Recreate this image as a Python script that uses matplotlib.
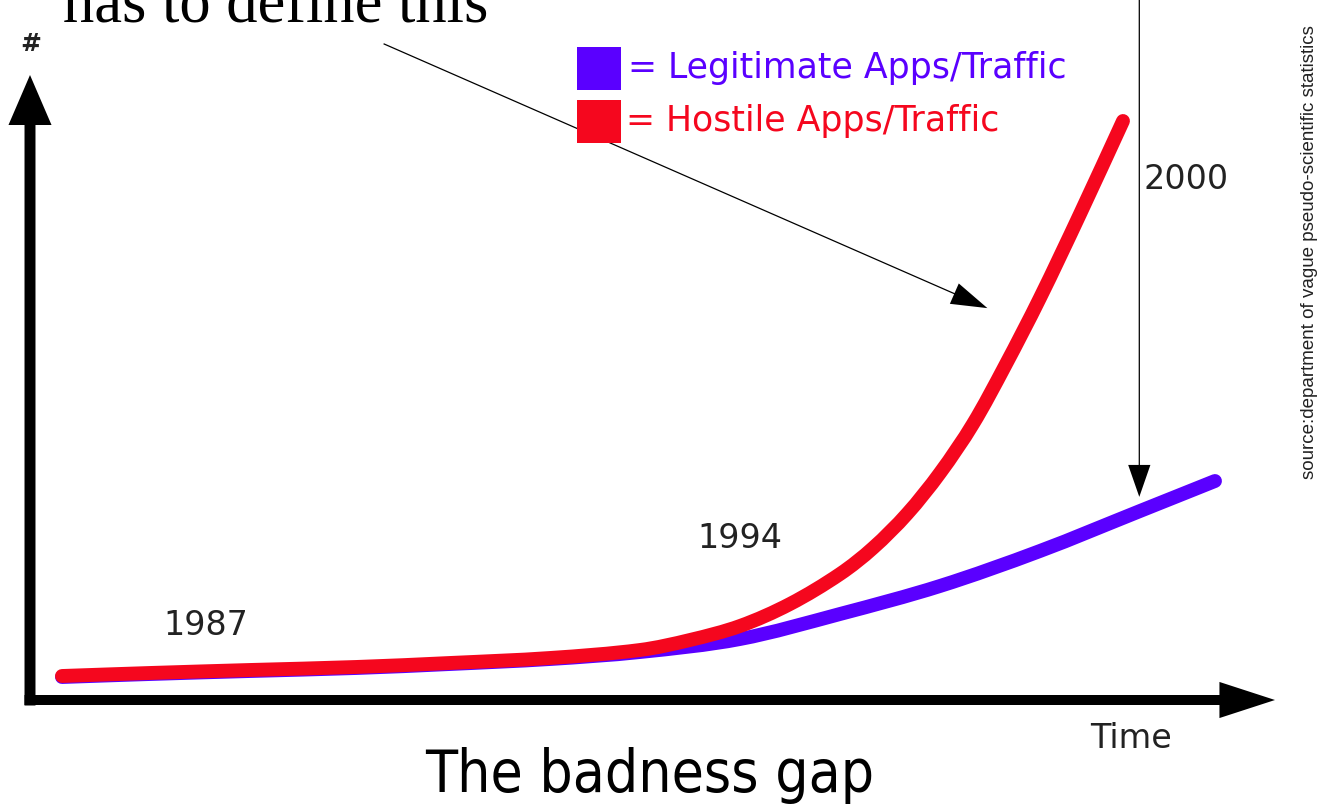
import os

import matplotlib
matplotlib.use('Agg')
import matplotlib.pyplot as plt
import numpy as np
from matplotlib import font_manager as fm
from matplotlib.patches import ArrowStyle, FancyArrowPatch, PathPatch, Rectangle
from matplotlib.path import Path

# ── Data (time and count in arbitrary units, 0..100 = axis arrow tips) ────────
legit_time  = [2.57, 9.64, 17.67, 26.18, 33.73, 41.77, 49.0, 57.03, 65.06, 73.09, 81.12, 89.16, 95.18]
legit_count = [3.68, 4.16, 4.64, 5.12, 5.76, 6.56, 7.68, 9.76, 13.76, 18.24, 23.84, 30.24, 35.04]

hostile_time  = [2.57, 9.64, 17.67, 26.18, 33.73, 41.77, 49.0, 53.01, 57.03, 61.04,
                 65.06, 67.71, 70.44, 73.09, 75.74, 78.31, 81.12, 84.34, 87.79]
hostile_count = [3.84, 4.32, 4.8, 5.28, 5.92, 6.72, 8.0, 9.6, 11.84, 15.36,
                 20.16, 24.32, 29.76, 36.32, 44.16, 53.44, 64.32, 77.76, 92.64]

year_labels = ['1987', '1994', '2000']
year_pos    = [(10.7, 10.4), (53.6, 24.3), (89.4, 81.8)]

LEGIT_LABEL   = '= Legitimate Apps/Traffic'
HOSTILE_LABEL = '= Hostile Apps/Traffic'

BLUE = '#5A00FF'
RED  = '#F5071E'

W, H = 1325, 805
AX_L, AX_T, AX_W, AX_H = 30, 75, 1245, 625   # plot box in pixels


def fx(px):
    return px / W


def fy(py):
    return 1 - py / H


# ── Fonts ─────────────────────────────────────────────────────────────────────
ttf = fm.fontManager.ttflist
names = {f.name for f in ttf}
cond = [f.fname for f in ttf if os.path.basename(f.fname) == 'DejaVuSansCondensed.ttf']
if cond:
    title_font = fm.FontProperties(fname=cond[0], size=42)
else:
    title_font = fm.FontProperties(family='DejaVu Sans', size=37)
if 'Liberation Sans Narrow' in names:
    src_font = fm.FontProperties(family='Liberation Sans Narrow', size=15.5)
else:
    src_font = fm.FontProperties(family='Liberation Sans', size=13.5)


# smooth curve through the points: cubic Bezier segments, tangents taken in
# screen proportions so the line bends evenly
def smooth_path(xs, ys):
    scale = np.array([AX_W / 100, AX_H / 100])
    p = np.column_stack([xs, ys]).astype(float) * scale
    n = len(p)
    tang = np.zeros_like(p)
    for i in range(n):
        d = p[min(i + 1, n - 1)] - p[max(i - 1, 0)]
        tang[i] = d / np.hypot(*d)
    verts = [p[0]]
    codes = [Path.MOVETO]
    for i in range(n - 1):
        seg = np.hypot(*(p[i + 1] - p[i]))
        verts += [p[i] + tang[i] * seg / 3, p[i + 1] - tang[i + 1] * seg / 3, p[i + 1]]
        codes += [Path.CURVE4] * 3
    return Path(np.array(verts) / scale, codes)


# ── Figure ────────────────────────────────────────────────────────────────────
fig = plt.figure(figsize=(W / 100, H / 100), dpi=100)
fig.patch.set_facecolor('white')
ax = fig.add_axes([fx(AX_L), fy(AX_T + AX_H), AX_W / W, AX_H / H])
ax.set_xlim(0, 100)
ax.set_ylim(0, 100)
ax.axis('off')

for xs, ys, col in [(legit_time, legit_count, BLUE), (hostile_time, hostile_count, RED)]:
    patch = PathPatch(smooth_path(xs, ys), facecolor='none', edgecolor=col, lw=10,
                      capstyle='round', joinstyle='round', clip_on=False)
    ax.add_patch(patch)


def arrow(a, b, hl, hw, tw, transform):
    p = FancyArrowPatch(a, b, transform=transform, mutation_scale=1,
                        arrowstyle=ArrowStyle.Simple(head_length=hl, head_width=hw, tail_width=tw),
                        color='black', lw=0, shrinkA=0, shrinkB=0, clip_on=False)
    ax.add_artist(p)


# axes arrows
arrow((0, -5.5 / AX_H), (0, 1), 36, 31, 7.9, ax.transAxes)
arrow((-5.5 / AX_W, 0), (1, 0), 40, 26, 7.2, ax.transAxes)

# pointer arrows
arrow((28.4, 105.0), (76.9, 62.7), 26, 16, 0.9, ax.transData)
arrow((89.1, 112.8), (89.1, 32.5), 23, 16, 0.9, ax.transData)

for lab, (x, y) in zip(year_labels, year_pos):
    ax.text(x, y, lab, fontsize=24, family='DejaVu Sans', color='#222222',
            ha='left', va='baseline')

# ── Texts and legend ──────────────────────────────────────────────────────────
fig.text(fx(63), fy(21), 'has to define this', family='Liberation Serif',
         fontsize=45, ha='left', va='baseline', color='black')
fig.text(fx(31), fy(44), '#', family='DejaVu Sans', fontweight='bold',
         fontsize=18, ha='center', va='center', color='#222222')

fig.add_artist(Rectangle((fx(577), fy(90)), 44 / W, 43 / H,
                         transform=fig.transFigure, facecolor=BLUE, edgecolor='none'))
fig.add_artist(Rectangle((fx(577), fy(143)), 44 / W, 43 / H,
                         transform=fig.transFigure, facecolor=RED, edgecolor='none'))
fig.text(fx(628), fy(68), LEGIT_LABEL, family='DejaVu Sans', fontsize=25,
         color=BLUE, ha='left', va='center')
fig.text(fx(626), fy(121), HOSTILE_LABEL, family='DejaVu Sans', fontsize=25,
         color=RED, ha='left', va='center')

fig.text(fx(1090), fy(748), 'Time', family='DejaVu Sans', fontsize=24,
         color='#222222', ha='left', va='baseline')
fig.text(fx(650), fy(792), 'The badness gap', fontproperties=title_font,
         color='black', ha='center', va='baseline')
fig.text(fx(1309), fy(252), 'source:department of vague pseudo-scientific statistics',
         fontproperties=src_font, rotation=90, color='#222222',
         ha='center', va='center')

fig.savefig('out.png', dpi=100, facecolor='white')
